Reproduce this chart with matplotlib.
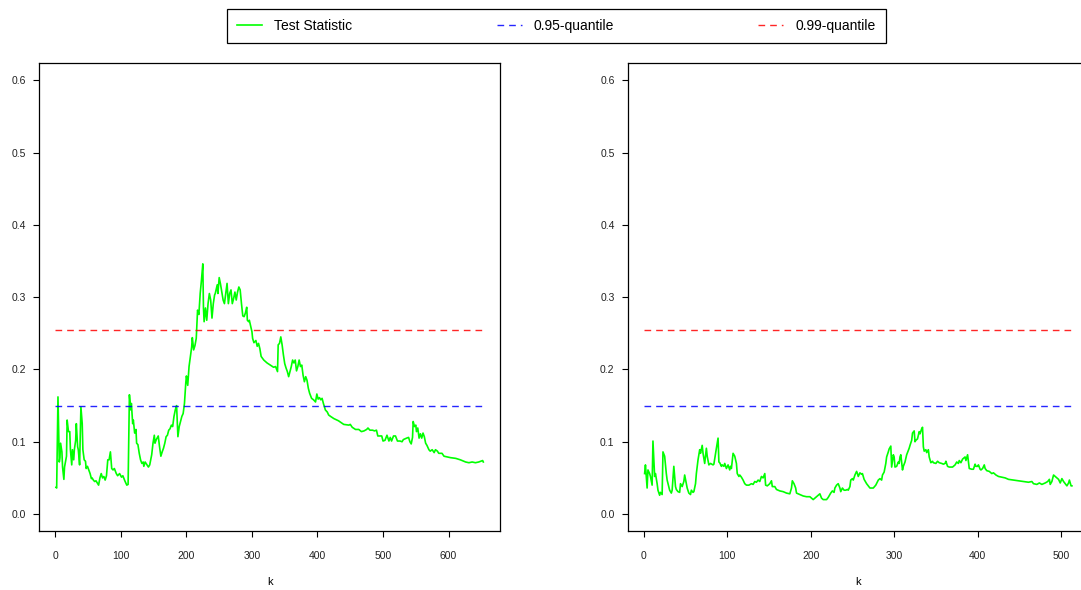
import numpy as np
import matplotlib
matplotlib.use("Agg")
import matplotlib.pyplot as plt

plt.rcParams['font.family'] = ['Liberation Sans', 'DejaVu Sans']

# test statistic path, first sample (index k, value)
left_k = [1, 2, 4, 6, 7, 8, 10, 11, 13, 14, 16, 17, 18, 20, 22, 23, 25, 26, 28, 29,
          31, 32, 34, 35, 37, 38, 39, 41, 42, 44, 46, 47, 49, 51, 53, 55, 56, 58, 60, 62,
          64, 66, 68, 70, 72, 74, 76, 78, 80, 82, 84, 86, 88, 90, 93, 95, 98, 101, 103, 106,
          109, 111, 113, 115, 116, 118, 119, 121, 123, 124, 126, 128, 130, 132, 134, 135, 137, 142, 144, 147,
          149, 151, 152, 154, 157, 159, 161, 163, 165, 167, 169, 171, 173, 175, 177, 179, 181, 183, 185, 187,
          189, 191, 193, 195, 197, 199, 200, 202, 204, 206, 208, 209, 211, 213, 215, 217, 219, 221, 223, 225,
          226, 227, 229, 231, 233, 235, 237, 239, 241, 243, 244, 247, 248, 250, 252, 254, 256, 258, 260, 262,
          264, 266, 268, 270, 272, 274, 276, 278, 280, 282, 284, 286, 288, 290, 292, 293, 295, 296, 300, 301,
          303, 306, 308, 310, 312, 314, 318, 323, 328, 333, 336, 339, 340, 342, 344, 346, 348, 350, 352, 354,
          356, 358, 360, 362, 364, 366, 368, 370, 372, 374, 376, 378, 380, 382, 384, 386, 388, 391, 394, 397,
          399, 401, 403, 405, 407, 409, 412, 415, 417, 420, 425, 432, 440, 448, 450, 453, 458, 463, 467, 471,
          475, 477, 480, 484, 487, 490, 492, 495, 498, 500, 503, 506, 509, 511, 513, 516, 519, 522, 526, 529,
          531, 536, 539, 541, 543, 545, 546, 548, 550, 551, 553, 555, 557, 559, 561, 563, 565, 567, 570, 572,
          575, 578, 580, 583, 585, 590, 593, 598, 603, 611, 618, 626, 631, 636, 641, 646, 649, 652, 653]
left_stat = [0.037, 0.036, 0.162, 0.072, 0.078, 0.098, 0.086, 0.065, 0.048, 0.065, 0.075, 0.080, 0.130, 0.114, 0.114, 0.089, 0.068, 0.089, 0.075, 0.089,
             0.102, 0.125, 0.093, 0.089, 0.068, 0.107, 0.148, 0.125, 0.089, 0.075, 0.073, 0.063, 0.066, 0.061, 0.056, 0.049, 0.050, 0.047, 0.045, 0.046,
             0.043, 0.040, 0.050, 0.056, 0.050, 0.052, 0.047, 0.053, 0.075, 0.075, 0.086, 0.063, 0.061, 0.063, 0.056, 0.053, 0.056, 0.051, 0.053, 0.046,
             0.040, 0.041, 0.165, 0.144, 0.153, 0.125, 0.130, 0.112, 0.117, 0.098, 0.096, 0.084, 0.075, 0.070, 0.072, 0.066, 0.072, 0.065, 0.068, 0.082,
             0.098, 0.109, 0.098, 0.103, 0.108, 0.093, 0.080, 0.086, 0.091, 0.098, 0.107, 0.109, 0.116, 0.118, 0.123, 0.121, 0.135, 0.144, 0.150, 0.107,
             0.121, 0.128, 0.135, 0.139, 0.153, 0.181, 0.191, 0.178, 0.204, 0.218, 0.231, 0.244, 0.227, 0.233, 0.243, 0.282, 0.276, 0.305, 0.324, 0.346,
             0.285, 0.266, 0.285, 0.268, 0.291, 0.305, 0.296, 0.271, 0.291, 0.303, 0.305, 0.317, 0.305, 0.327, 0.318, 0.307, 0.296, 0.291, 0.305, 0.319,
             0.291, 0.305, 0.310, 0.291, 0.298, 0.307, 0.296, 0.307, 0.314, 0.310, 0.291, 0.274, 0.273, 0.278, 0.286, 0.268, 0.266, 0.268, 0.252, 0.243,
             0.237, 0.240, 0.232, 0.236, 0.229, 0.218, 0.213, 0.209, 0.206, 0.203, 0.204, 0.197, 0.234, 0.236, 0.245, 0.234, 0.220, 0.208, 0.202, 0.197,
             0.190, 0.197, 0.204, 0.213, 0.209, 0.213, 0.198, 0.204, 0.213, 0.204, 0.206, 0.192, 0.183, 0.190, 0.185, 0.174, 0.167, 0.160, 0.158, 0.155,
             0.166, 0.159, 0.161, 0.158, 0.160, 0.153, 0.144, 0.141, 0.137, 0.135, 0.132, 0.129, 0.124, 0.123, 0.124, 0.120, 0.117, 0.117, 0.114, 0.115,
             0.117, 0.119, 0.116, 0.116, 0.115, 0.116, 0.108, 0.108, 0.108, 0.101, 0.102, 0.109, 0.101, 0.106, 0.101, 0.108, 0.108, 0.101, 0.101, 0.100,
             0.103, 0.105, 0.106, 0.100, 0.097, 0.106, 0.128, 0.121, 0.123, 0.114, 0.119, 0.105, 0.111, 0.105, 0.112, 0.107, 0.098, 0.095, 0.089, 0.087,
             0.089, 0.085, 0.089, 0.087, 0.084, 0.084, 0.080, 0.079, 0.078, 0.077, 0.075, 0.072, 0.071, 0.072, 0.071, 0.072, 0.073, 0.074, 0.072]

# test statistic path, second sample
right_k = [1, 2, 4, 5, 7, 8, 10, 11, 13, 14, 16, 17, 19, 20, 22, 23, 25, 27, 28, 30,
           31, 33, 34, 36, 38, 39, 41, 43, 44, 46, 48, 49, 51, 52, 54, 56, 57, 59, 60, 62,
           63, 65, 67, 68, 70, 71, 73, 75, 76, 78, 80, 83, 84, 86, 87, 89, 90, 91, 93, 94,
           96, 97, 99, 101, 103, 104, 105, 107, 109, 111, 112, 114, 115, 117, 119, 121, 123, 126, 129, 131,
           133, 135, 137, 139, 141, 143, 145, 146, 148, 149, 151, 153, 154, 157, 159, 163, 167, 171, 175, 177,
           178, 180, 182, 183, 187, 191, 195, 199, 203, 207, 211, 213, 215, 219, 221, 224, 226, 228, 229, 231,
           233, 235, 236, 238, 240, 242, 244, 245, 247, 248, 250, 251, 253, 255, 256, 257, 259, 261, 262, 264,
           267, 271, 275, 278, 281, 283, 285, 286, 288, 290, 291, 293, 294, 296, 297, 299, 300, 301, 303, 305,
           306, 307, 308, 310, 311, 313, 315, 318, 319, 321, 322, 324, 325, 326, 328, 330, 331, 333, 334, 335,
           336, 338, 339, 341, 342, 344, 346, 347, 350, 352, 354, 357, 359, 361, 362, 364, 366, 370, 373, 375,
           377, 378, 380, 382, 383, 385, 386, 388, 390, 393, 395, 397, 398, 400, 401, 403, 404, 406, 408, 409,
           411, 414, 417, 419, 422, 425, 429, 433, 437, 443, 449, 455, 461, 465, 467, 471, 474, 477, 481, 484,
           486, 487, 489, 491, 493, 495, 497, 499, 501, 503, 505, 507, 509, 510, 512, 513]
right_stat = [0.056, 0.068, 0.036, 0.061, 0.056, 0.052, 0.040, 0.101, 0.052, 0.056, 0.042, 0.033, 0.026, 0.030, 0.027, 0.086, 0.080, 0.056, 0.047, 0.038,
              0.033, 0.029, 0.033, 0.066, 0.038, 0.034, 0.031, 0.030, 0.042, 0.038, 0.045, 0.054, 0.042, 0.036, 0.029, 0.027, 0.033, 0.030, 0.031, 0.042,
              0.056, 0.075, 0.089, 0.084, 0.095, 0.084, 0.070, 0.091, 0.080, 0.068, 0.070, 0.068, 0.069, 0.084, 0.091, 0.105, 0.072, 0.071, 0.066, 0.068,
              0.066, 0.070, 0.063, 0.068, 0.061, 0.066, 0.063, 0.084, 0.080, 0.070, 0.056, 0.052, 0.054, 0.051, 0.047, 0.042, 0.040, 0.040, 0.042, 0.041,
              0.045, 0.044, 0.047, 0.045, 0.052, 0.050, 0.056, 0.040, 0.039, 0.040, 0.042, 0.046, 0.038, 0.038, 0.034, 0.032, 0.031, 0.029, 0.028, 0.036,
              0.046, 0.042, 0.036, 0.029, 0.027, 0.025, 0.024, 0.024, 0.020, 0.024, 0.028, 0.022, 0.020, 0.020, 0.023, 0.029, 0.032, 0.030, 0.036, 0.040,
              0.042, 0.036, 0.031, 0.036, 0.033, 0.033, 0.034, 0.033, 0.038, 0.047, 0.049, 0.047, 0.054, 0.059, 0.056, 0.052, 0.057, 0.055, 0.056, 0.048,
              0.042, 0.036, 0.036, 0.040, 0.047, 0.049, 0.047, 0.054, 0.058, 0.070, 0.079, 0.086, 0.090, 0.094, 0.065, 0.082, 0.079, 0.065, 0.066, 0.072,
              0.070, 0.079, 0.082, 0.061, 0.066, 0.072, 0.082, 0.091, 0.095, 0.102, 0.112, 0.115, 0.100, 0.102, 0.104, 0.114, 0.111, 0.118, 0.120, 0.093,
              0.087, 0.089, 0.085, 0.089, 0.079, 0.071, 0.073, 0.071, 0.070, 0.073, 0.071, 0.070, 0.069, 0.070, 0.073, 0.066, 0.065, 0.065, 0.068, 0.072,
              0.070, 0.074, 0.071, 0.076, 0.077, 0.079, 0.074, 0.082, 0.063, 0.062, 0.062, 0.069, 0.066, 0.066, 0.068, 0.062, 0.061, 0.063, 0.068, 0.063,
              0.060, 0.059, 0.056, 0.057, 0.054, 0.052, 0.051, 0.050, 0.048, 0.047, 0.046, 0.045, 0.044, 0.045, 0.042, 0.041, 0.043, 0.041, 0.043, 0.045,
              0.048, 0.041, 0.045, 0.054, 0.052, 0.050, 0.048, 0.043, 0.049, 0.045, 0.042, 0.039, 0.043, 0.047, 0.039, 0.039]

# critical values
quantile_levels = ["0.95-quantile", "0.99-quantile"]
quantile_values = [0.150, 0.254]
quantile_colors = ["blue", "red"]

DASH = (0, (4.8, 3.6))


def draw_panel(ax, k, stat):
    n = k[-1]
    stat_line, = ax.plot(k, stat, color="#00ff00", lw=1.2, label="Test Statistic")
    q_lines = []
    for lab, q, c in zip(quantile_levels, quantile_values, quantile_colors):
        ln, = ax.plot([0, n], [q, q], color=c, lw=1.0, alpha=0.85, linestyle=DASH, label=lab)
        q_lines.append(ln)

    # 4% padding on both axes
    pad = 0.04 * (n - k[0])
    ax.set_xlim(k[0] - pad, n + pad)
    ax.set_ylim(-0.024, 0.624)
    ax.set_xticks(np.arange(0, n + 1, 100))
    ax.set_yticks(np.arange(0, 0.61, 0.1))
    ax.set_yticklabels([f"{v:.1f}" for v in np.arange(0, 0.61, 0.1)])
    ax.tick_params(axis="x", direction="out", length=4.3, width=0.8, pad=10, labelsize=7.5,
                   labelcolor="#222222")
    ax.tick_params(axis="y", direction="out", length=4.3, width=0.8, pad=5, labelsize=7.5,
                   labelcolor="#222222")
    ax.set_xlabel("k", fontsize=8, labelpad=11)
    for sp in ax.spines.values():
        sp.set_linewidth(0.9)
    return [stat_line] + q_lines


fig = plt.figure(figsize=(10.81, 5.90), dpi=100)
ax1 = fig.add_axes([0.0360, 0.0993, 0.4269, 0.7942])
ax2 = fig.add_axes([0.5805, 0.0993, 0.4269, 0.7942])

handles = draw_panel(ax1, left_k, left_stat)
draw_panel(ax2, right_k, right_stat)

leg = fig.legend(handles=handles, labels=[h.get_label() for h in handles],
                 loc="upper left", bbox_to_anchor=(227 / 1081, 1 - 8.5 / 590, 659 / 1081, 0.0),
                 ncol=3, mode="expand", borderaxespad=0, fontsize=10,
                 handlelength=1.8, handletextpad=0.86, borderpad=0.75,
                 fancybox=False, framealpha=1)
leg.get_frame().set_edgecolor("black")
leg.get_frame().set_linewidth(0.9)

fig.savefig("out.png", dpi=100)
